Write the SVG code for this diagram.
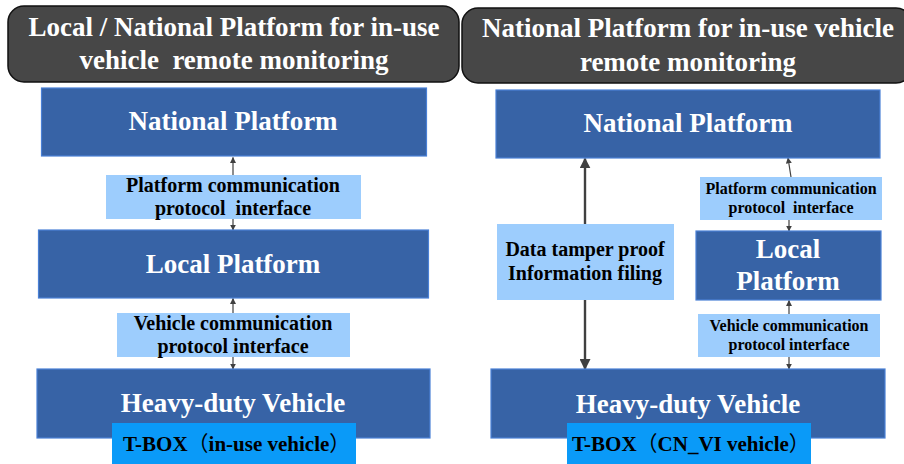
<svg xmlns="http://www.w3.org/2000/svg" width="904" height="464" viewBox="0 0 904 464">
<defs>
<style>
.hdr{fill:#474747;stroke:#111;stroke-width:1.5}
.blue{fill:#3763a6;stroke:#4a80d6;stroke-width:1.2}
.lt{fill:#9dcdfd}
.tb{fill:#0a9af8}
.ht{font-family:'Liberation Serif','DejaVu Serif',serif;font-weight:700;fill:#fff;text-anchor:middle}
.bt{font-family:'Liberation Serif','DejaVu Serif',serif;font-weight:700;fill:#000;text-anchor:middle}
.bs{font-family:'Liberation Serif','DejaVu Serif',serif;font-weight:700;fill:#000;text-anchor:start}
.cj{font-family:'Noto Sans CJK SC',sans-serif;font-weight:400}
.ln{stroke:#404040;stroke-width:1.2;fill:none}
.lk{stroke:#404040;stroke-width:2.4;fill:none}
</style>
<marker id="a" viewBox="0 0 10 10" refX="9" refY="5" markerWidth="6" markerHeight="6" orient="auto" markerUnits="userSpaceOnUse"><path d="M0,0 L10,5 L0,10 z" fill="#404040"/></marker>
<marker id="b" viewBox="0 0 10 10" refX="9" refY="5" markerWidth="11" markerHeight="11" orient="auto" markerUnits="userSpaceOnUse"><path d="M0,0 L10,5 L0,10 z" fill="#404040"/></marker>
</defs>

<g id="connectors">
<line class="ln" x1="233" y1="175" x2="233" y2="157.5" marker-end="url(#a)"/>
<line class="ln" x1="233" y1="219" x2="233" y2="230" marker-end="url(#a)"/>
<line class="ln" x1="233" y1="313" x2="233" y2="298.5" marker-end="url(#a)"/>
<line class="ln" x1="233" y1="357" x2="233" y2="369" marker-end="url(#a)"/>
<line class="lk" x1="585" y1="224" x2="585" y2="158.5" marker-end="url(#b)"/>
<line class="lk" x1="585" y1="300" x2="585" y2="369" marker-end="url(#b)"/>
<line class="ln" x1="791" y1="177" x2="788" y2="158" marker-end="url(#a)"/>
<line class="ln" x1="789" y1="220" x2="789" y2="231" marker-end="url(#a)"/>
<line class="ln" x1="789" y1="314" x2="789" y2="300.5" marker-end="url(#a)"/>
<line class="ln" x1="789" y1="357" x2="789" y2="369" marker-end="url(#a)"/>
</g>

<g id="left-header">
<rect class="hdr" x="8" y="6" width="451" height="76" rx="16"/>
<text class="ht" x="234" y="36" font-size="27">Local / National Platform for in-use</text>
<text class="ht" x="234" y="69" font-size="27" xml:space="preserve">vehicle  remote monitoring</text>
</g>
<g id="left-national">
<rect class="blue" x="41.5" y="88" width="385" height="68"/>
<text class="ht" x="233" y="130" font-size="27">National Platform</text>
</g>
<g id="left-platform-comm">
<rect class="lt" x="106" y="175" width="255" height="44"/>
<text class="bt" x="233" y="192" font-size="20">Platform communication</text>
<text class="bt" x="233" y="215" font-size="20" xml:space="preserve">protocol  interface</text>
</g>
<g id="left-local">
<rect class="blue" x="38.5" y="230" width="390" height="68"/>
<text class="ht" x="233" y="273" font-size="27">Local Platform</text>
</g>
<g id="left-vehicle-comm">
<rect class="lt" x="117" y="313" width="233" height="44"/>
<text class="bt" x="233" y="330" font-size="20">Vehicle communication</text>
<text class="bt" x="233" y="353" font-size="20">protocol interface</text>
</g>
<g id="left-vehicle">
<rect class="blue" x="37" y="369" width="393" height="69"/>
<text class="ht" x="233" y="412" font-size="27">Heavy-duty Vehicle</text>
</g>
<g id="left-tbox">
<rect class="tb" x="112" y="423" width="244" height="45"/>
<text class="bs" x="123" y="451" font-size="21">T-BOX<tspan class="cj">（</tspan>in-use vehicle<tspan class="cj">）</tspan></text>
</g>

<g id="right-header">
<rect class="hdr" x="462" y="8" width="450" height="75" rx="16"/>
<text class="ht" x="688" y="37" font-size="27">National Platform for in-use vehicle</text>
<text class="ht" x="688" y="71" font-size="27">remote monitoring</text>
</g>
<g id="right-national">
<rect class="blue" x="496" y="90" width="384" height="68"/>
<text class="ht" x="688" y="132" font-size="27">National Platform</text>
</g>
<g id="right-tamper">
<rect class="lt" x="497" y="224" width="177" height="76"/>
<text class="bt" x="585" y="256" font-size="20">Data tamper proof</text>
<text class="bt" x="585" y="280" font-size="20">Information filing</text>
</g>
<g id="right-platform-comm">
<rect class="lt" x="700" y="177" width="182" height="43"/>
<text class="bt" x="791" y="194" font-size="16">Platform communication</text>
<text class="bt" x="791" y="213" font-size="16" xml:space="preserve">protocol  interface</text>
</g>
<g id="right-local">
<rect class="blue" x="696" y="231" width="185" height="69"/>
<text class="ht" x="788" y="258" font-size="27">Local</text>
<text class="ht" x="788" y="290" font-size="27">Platform</text>
</g>
<g id="right-vehicle-comm">
<rect class="lt" x="698" y="314" width="182" height="43"/>
<text class="bt" x="789" y="331" font-size="16">Vehicle communication</text>
<text class="bt" x="789" y="350" font-size="16">protocol interface</text>
</g>
<g id="right-vehicle">
<rect class="blue" x="491" y="369" width="394" height="69"/>
<text class="ht" x="688" y="413" font-size="27">Heavy-duty Vehicle</text>
</g>
<g id="right-tbox">
<rect class="tb" x="567" y="423" width="244" height="45"/>
<text class="bs" x="572" y="451" font-size="21">T-BOX<tspan class="cj">（</tspan>CN_VI vehicle<tspan class="cj">）</tspan></text>
</g>
</svg>
